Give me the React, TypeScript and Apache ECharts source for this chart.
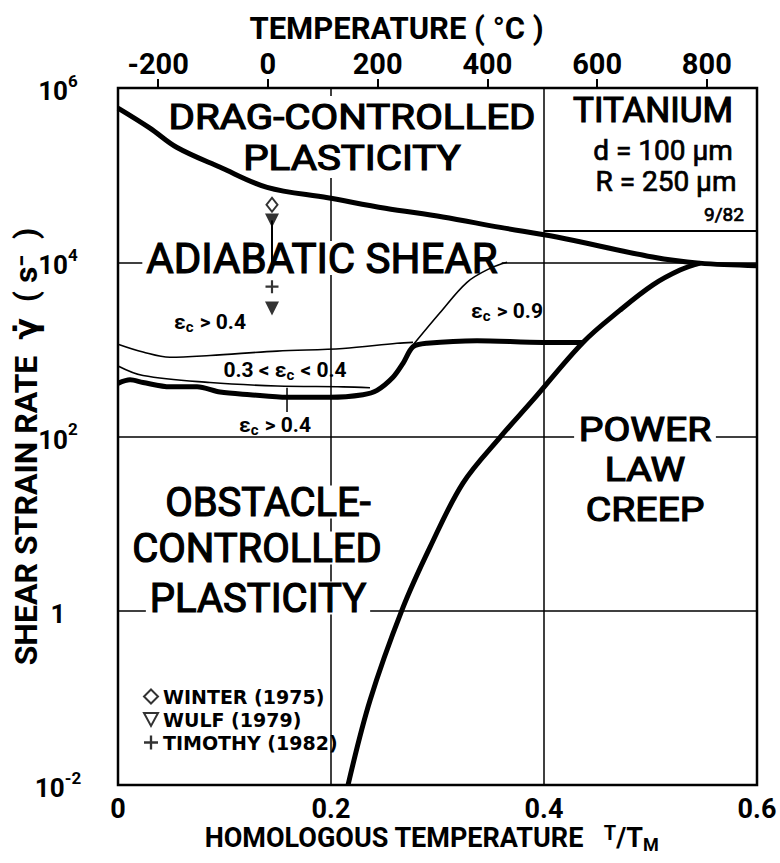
import React, { useEffect, useRef } from "react";
import * as echarts from "echarts";

// Homologous temperature T/TM (x) and log10 of shear strain rate (s^-1) (y)
const dragT = [0, 0.03, 0.055, 0.096, 0.14, 0.197, 0.251, 0.305, 0.359, 0.412, 0.502, 0.546, 0.6];
const dragLog = [5.77, 5.54, 5.32, 5.09, 4.86, 4.74, 4.62, 4.52, 4.40, 4.29, 4.06, 3.99, 3.96];

const creepT = [0.216, 0.2366, 0.2667, 0.293, 0.3239, 0.3587, 0.3897, 0.4366, 0.4714, 0.5023, 0.5277, 0.5465];
const creepLog = [-2.0, -1.03, 0.01, 0.73, 1.465, 1.99, 2.42, 3.08, 3.45, 3.74, 3.91, 3.99];

const lowerT = [0, 0.0113, 0.0235, 0.0488, 0.0742, 0.0958, 0.1239, 0.1587, 0.1991, 0.23, 0.2432, 0.2582, 0.2676, 0.277, 0.2901, 0.3371, 0.3991, 0.4366];
const lowerLog = [2.61, 2.65, 2.62, 2.57, 2.57, 2.51, 2.48, 2.45, 2.45, 2.48, 2.53, 2.68, 2.84, 3.03, 3.07, 3.10, 3.08, 3.08];

const midT = [0, 0.0235, 0.0864, 0.1493, 0.2113, 0.2366];
const midLog = [2.81, 2.70, 2.62, 2.58, 2.57, 2.56];

const upperT = [0, 0.0235, 0.0488, 0.0864, 0.1493, 0.2113, 0.262, 0.277];
const upperLog = [3.06, 2.97, 2.91, 2.93, 2.98, 3.01, 3.07, 3.08];

const riseT = [0.277, 0.3023, 0.3277, 0.3493, 0.3653];
const riseLog = [3.05, 3.42, 3.77, 3.93, 4.0];

const markerT = 0.1446;
const winterLog = [4.66];
const wulfLog = [4.48, 3.47];
const timothyLog = [3.72];
const arrowLog = [4.48, 3.93];

const boxT = [0.4, 0.6];
const boxLog = [4.36, 4.36];
const leaderT = [0.1587, 0.1587];
const leaderLog = [2.56, 2.28];

const bottomTicks = [0, 0.2, 0.4, 0.6];
const topTicksC = [-200, 0, 200, 400, 600, 800];
const TM_K = 1941; // melting point of titanium (K)

const FONT = "Roboto, 'DejaVu Sans', sans-serif";
const WIDE = "'DejaVu Sans', Roboto, sans-serif";

const pairs = (xs: number[], ys: number[]) => xs.map((x, i) => [x, ys[i]]);

const bigText = (text: string, x: number, y: number, size = 40, lh?: number, sx = 1) => ({
  type: "text",
  x,
  y,
  scaleX: sx,
  z: 1,
  style: {
    text,
    fontSize: size,
    fontFamily: FONT,
    fill: "#000",
    stroke: "#000",
    lineWidth: size > 30 ? 1.2 : 0.7,
    align: "center",
    verticalAlign: "middle",
    lineHeight: lh ?? Math.round(size * 0.82),
    backgroundColor: "#fff",
    padding: [0, 4],
  },
});

const epsRich = {
  e: { fontSize: 21, fontFamily: FONT, fontWeight: "bold", fill: "#000" },
  c: { fontSize: 15, fontFamily: FONT, fontWeight: "bold", fill: "#000", padding: [10, 1, 0, 0] },
};
const epsText = (text: string, x: number, y: number) => ({
  type: "text",
  x,
  y,
  z: 1,
  style: { text, rich: epsRich, align: "center", verticalAlign: "middle" },
});

export default function App() {
  const ref = useRef<HTMLDivElement>(null);
  useEffect(() => {
    document.body.style.margin = "0";
    const chart = echarts.init(ref.current!, undefined, { renderer: "svg" });
    const thick = { color: "#000", width: 5 };
    const thin = { color: "#000", width: 1.6 };
    const lineSeries = (name: string, xs: number[], ys: number[], ls: any, smooth: number | boolean = 0.35) => ({
      type: "line",
      name,
      data: pairs(xs, ys),
      showSymbol: false,
      symbol: "none",
      smooth,
      lineStyle: ls,
      z: 3,
      silent: true,
    });
    chart.setOption({
      animation: false,
      backgroundColor: "#fff",
      grid: {
        left: 118,
        right: 23,
        top: 88,
        bottom: 78,
        show: true,
        borderColor: "#000",
        borderWidth: 2.5,
        containLabel: false,
        outerBoundsMode: "none",
      },
      xAxis: [
        {
          type: "value",
          position: "bottom",
          min: 0,
          max: 0.6,
          interval: 0.2,
          axisLine: { show: false },
          axisTick: { show: false },
          splitLine: { show: true, lineStyle: { color: "#000", width: 1.5 } },
          axisLabel: {
            margin: 10,
            fontSize: 27,
            fontWeight: "bold",
            fontFamily: FONT,
            color: "#000",
            customValues: bottomTicks,
            formatter: (v: number) => (v === 0 ? "0" : v.toFixed(1)),
          },
          name: "{a|HOMOLOGOUS TEMPERATURE   }{s|T}{a|/}{a|T}{m|M}",
          nameLocation: "middle",
          nameGap: 38,
          nameMoveOverlap: false,
          nameTextStyle: {
            padding: [0, 12, 0, 0],
            rich: {
              a: { fontSize: 27, fontWeight: "bold", fontFamily: FONT, color: "#000" },
              s: { fontSize: 20, fontWeight: "bold", fontFamily: FONT, color: "#000", padding: [0, 0, 10, 0] },
              m: { fontSize: 18, fontWeight: "bold", fontFamily: FONT, color: "#000", padding: [12, 0, 0, 0] },
            },
          },
        },
        {
          type: "value",
          position: "top",
          min: -273.15,
          max: 0.6 * TM_K - 273.15,
          axisLine: { show: false },
          axisTick: { show: true, inside: false, length: 9, lineStyle: { color: "#000", width: 2 }, customValues: topTicksC },
          splitLine: { show: false },
          axisLabel: {
            margin: 10,
            fontSize: 29,
            fontWeight: "bold",
            fontFamily: FONT,
            color: "#000",
            customValues: topTicksC,
            formatter: (v: number) => String(v),
          },
          name: "TEMPERATURE ( \u00B0C )",
          nameLocation: "middle",
          nameGap: 44,
          nameMoveOverlap: false,
          nameTextStyle: { fontSize: 31, fontWeight: "bold", fontFamily: FONT, color: "#000", padding: [0, 82, 0, 0] },
        },
      ],
      yAxis: {
        type: "value",
        min: -2,
        max: 6,
        interval: 2,
        axisLine: { show: false },
        axisTick: { show: false },
        splitLine: { show: true, lineStyle: { color: "#000", width: 1.5 } },
        axisLabel: {
          margin: 60,
          align: "center",
          formatter: (v: number) => (v === 0 ? "{b|1}" : "{b|10}{s|" + v + "}"),
          rich: {
            b: { fontSize: 26, fontWeight: "bold", fontFamily: FONT, color: "#000", lineHeight: 32, verticalAlign: "bottom" },
            s: { fontSize: 17, fontWeight: "bold", fontFamily: FONT, color: "#000", lineHeight: 32, verticalAlign: "top", padding: [0, 0, 12, 0] },
          },
        },
        name: "SHEAR STRAIN RATE  \u03B3\u0307  ( s\u207B  )",
        nameLocation: "middle",
        nameRotate: 90,
        nameGap: 76,
        nameMoveOverlap: false,
        nameTextStyle: { fontSize: 32, fontWeight: "bold", fontFamily: FONT, color: "#000", padding: [0, 20, 0, 0] },
      },
      legend: {
        orient: "vertical",
        left: 138,
        top: 682,
        itemGap: 4,
        itemWidth: 14,
        itemHeight: 14,
        textStyle: { fontSize: 19, fontWeight: "bold", fontFamily: WIDE, color: "#000" },
        data: [
          { name: "WINTER (1975)", icon: "diamond", itemStyle: { color: "#fff", borderColor: "#000", borderWidth: 2 } },
          { name: "WULF (1979)", icon: "path://M0,0L12,0L6,11Z", itemStyle: { color: "#fff", borderColor: "#000", borderWidth: 2 } },
          { name: "TIMOTHY (1982)", icon: "path://M5,0H7V5H12V7H7V12H5V7H0V5H5Z", itemStyle: { color: "#000", borderWidth: 0 } },
        ],
      },
      series: [
        lineSeries("drag", dragT, dragLog, thick),
        lineSeries("creep", creepT, creepLog, thick),
        lineSeries("lower", lowerT, lowerLog, thick, 0.3),
        lineSeries("mid", midT, midLog, thin),
        lineSeries("upper", upperT, upperLog, thin),
        lineSeries("rise", riseT, riseLog, thin),
        lineSeries("box", boxT, boxLog, { color: "#000", width: 2 }, false),
        lineSeries("leader", leaderT, leaderLog, { color: "#000", width: 1.5 }, false),
        lineSeries("arrow", [markerT, markerT], arrowLog, { color: "#000", width: 2 }, false),
        {
          type: "scatter",
          name: "WINTER (1975)",
          data: winterLog.map((v) => [markerT, v]),
          symbol: "diamond",
          symbolSize: [11, 14],
          itemStyle: { color: "#fff", borderColor: "#000", borderWidth: 2 },
          z: 4,
        },
        {
          type: "scatter",
          name: "WULF (1979)",
          data: wulfLog.map((v) => [markerT, v]),
          symbol: "triangle",
          symbolRotate: 180,
          symbolSize: [14, 14],
          itemStyle: { color: "#000" },
          z: 4,
        },
        {
          type: "scatter",
          name: "TIMOTHY (1982)",
          data: timothyLog.map((v) => [markerT, v]),
          symbol: "path://M5,0H7V5H12V7H7V12H5V7H0V5H5Z",
          symbolSize: 13,
          itemStyle: { color: "#000" },
          z: 4,
        },
      ],
      graphic: [
        bigText("DRAG-CONTROLLED\nPLASTICITY", 352, 137, 35, 41, 1.15),
        bigText("ADIABATIC SHEAR", 322, 258, 42),
        bigText("TITANIUM", 653, 110, 35),
        bigText("d = 100 \u03BCm", 663, 150, 28),
        bigText("R = 250 \u03BCm", 666, 181, 28),
        bigText("9/82", 724, 214, 19),
        bigText("OBSTACLE-", 268, 502),
        bigText("CONTROLLED", 257, 548),
        bigText("PLASTICITY", 258, 598),
        bigText("POWER\nLAW\nCREEP", 645, 469, 34, 40, 1.15),
        epsText("{e|\u03B5}{c|c}{e| > 0.4}", 210, 322),
        epsText("{e|0.3 < \u03B5}{c|c}{e| < 0.4}", 285, 370),
        epsText("{e|\u03B5}{c|c}{e| > 0.4}", 275, 425),
        epsText("{e|\u03B5}{c|c}{e| > 0.9}", 507, 311),
      ],
    });
    return () => chart.dispose();
  }, []);
  return <div ref={ref} style={{ width: 780, height: 863 }} />;
}
